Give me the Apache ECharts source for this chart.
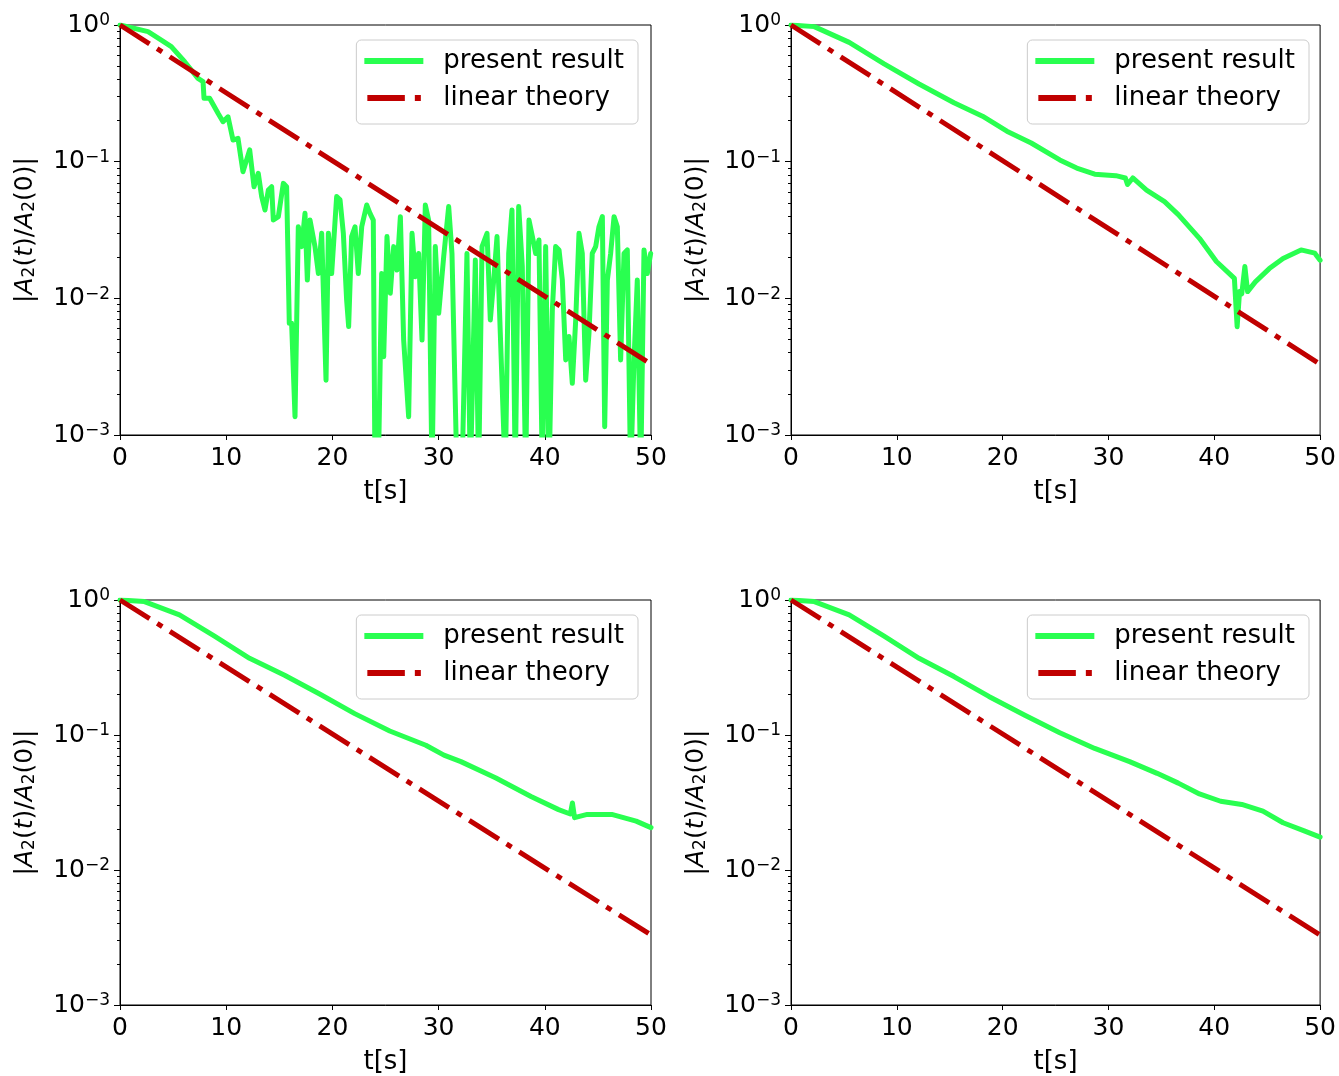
<!DOCTYPE html>
<html><head><meta charset="utf-8">
<script src="https://cdn.jsdelivr.net/npm/echarts@6/dist/echarts.min.js"></script>
<style>html,body{margin:0;padding:0;background:#fff}#c{width:1339px;height:1076px}</style>
</head><body><div id="c"></div>
<script>
// ---------- data ----------
const seriesNames = ['present result', 'linear theory'];
const xTicks = [0, 10, 20, 30, 40, 50];
const yMajorTicks = [0.001, 0.01, 0.1, 1];
const yMinorTicks = [0.002,0.003,0.004,0.005,0.006,0.007,0.008,0.009,
                     0.02,0.03,0.04,0.05,0.06,0.07,0.08,0.09,
                     0.2,0.3,0.4,0.5,0.6,0.7,0.8,0.9];

// linear theory (same in all panels)
const linT = [0, 50];
const linV = [1, 0.0033];

// panel A (top-left), noisy
const aT = [0,2.64,3.89,4.83,6.09,7.34,7.82,7.91,8.44,9.23,
  9.70,10.17,10.64,11.11,11.58,12.21,12.62,13.02,13.34,13.65,
  13.97,14.28,14.44,14.91,15.38,15.69,15.94,16.16,16.48,16.79,
  17.11,17.42,17.64,17.89,18.36,18.68,18.99,19.40,19.62,19.93,
  20.40,20.72,21.03,21.34,21.53,21.81,22.13,22.44,22.76,23.23,
  23.54,23.85,24.01,24.32,24.64,24.83,25.14,25.45,25.77,26.08,
  26.40,26.71,27.18,27.50,27.81,28.12,28.44,28.75,29.06,29.38,
  29.69,30.01,30.48,30.95,31.26,31.73,32.20,32.67,32.99,33.46,
  33.77,34.09,34.56,34.87,35.19,35.50,35.81,36.28,36.60,36.91,
  37.22,37.54,37.88,38.20,38.51,38.83,39.14,39.45,39.77,40.08,
  40.40,40.71,41.02,41.34,41.65,41.97,42.28,42.59,42.91,43.22,
  43.53,43.85,44.16,44.47,44.79,45.10,45.42,45.64,45.89,46.20,
  46.52,46.83,47.14,47.46,47.77,48.08,48.40,48.71,49.03,49.34,
  49.65,49.97];
const aV = [1.0,0.894,0.776,0.694,0.539,0.407,0.385,0.291,0.291,0.226,
  0.196,0.213,0.144,0.148,0.0845,0.122,0.0656,0.0822,0.0555,0.0443,
  0.0621,0.0656,0.0374,0.0396,0.0694,0.0656,0.00656,0.00656,0.00136,0.0334,
  0.0239,0.0419,0.0136,0.0374,0.0239,0.0152,0.0299,0.00252,0.0299,0.0152,
  0.0555,0.0525,0.0299,0.00973,0.00621,0.0283,0.0334,0.0152,0.0334,0.0482,
  0.0419,0.0374,0.0005,0.0005,0.0152,0.00374,0.0283,0.0109,0.0239,0.0161,
  0.0396,0.00495,0.00136,0.0299,0.0144,0.0213,0.00495,0.0482,0.0374,0.0005,
  0.0239,0.00777,0.0202,0.0469,0.0213,0.0005,0.0005,0.0213,0.0005,0.0191,
  0.0005,0.0239,0.0299,0.00694,0.0136,0.0283,0.00555,0.0005,0.0213,0.0443,
  0.0005,0.0469,0.0171,0.0005,0.0374,0.0283,0.0213,0.0267,0.0005,0.0239,
  0.0005,0.00822,0.0239,0.0226,0.0136,0.00354,0.00525,0.00239,0.00694,0.0299,
  0.0213,0.00252,0.00555,0.0213,0.0239,0.0334,0.0396,0.00115,0.0136,0.0213,
  0.0396,0.0334,0.00354,0.0213,0.0226,0.0005,0.00354,0.0136,0.0005,0.0226,
  0.0152,0.0213];

// panel B (top-right)
const bT = [0,2.2,5.5,8.8,12.1,15.4,18.1,20.4,22.7,25.4,27.0,28.7,30.7,31.6,31.8,32.3,33.6,35.3,36.6,38.6,40.2,41.9,42.16,42.39,42.6,42.89,43.15,43.88,45.2,46.5,48.2,49.5,50];
const bV = [1,0.973,0.746,0.52,0.37,0.27,0.215,0.167,0.137,0.103,0.0898,0.081,0.079,0.076,0.068,0.076,0.062,0.051,0.041,0.0275,0.0186,0.014,0.0062,0.0112,0.0108,0.0171,0.0112,0.0132,0.0165,0.0196,0.0226,0.0214,0.019];

// panel C (bottom-left)
const cT = [0,2.3,5.6,8.9,12.2,15.5,18.8,22.1,25.4,28.8,30.5,32.1,35.4,38.7,41.3,42.4,42.6,42.8,44.0,46.3,48.6,50];
const cV = [1,0.973,0.776,0.54,0.37,0.277,0.201,0.144,0.107,0.084,0.071,0.0635,0.048,0.035,0.028,0.026,0.0314,0.0244,0.0258,0.0258,0.023,0.0206];

// panel D (bottom-right)
const dT = [0,2.2,5.5,8.8,12.1,15.4,18.7,22.1,25.4,28.7,32.0,34.6,36.6,38.6,40.6,42.6,44.6,46.5,48.5,50];
const dV = [1,0.973,0.776,0.54,0.37,0.271,0.193,0.14,0.104,0.0795,0.0635,0.052,0.044,0.0366,0.0323,0.0306,0.0273,0.0224,0.0195,0.0175];

const panels = [[aT,aV],[bT,bV],[cT,cV],[dT,dV]];

// ---------- chart ----------
const FONT = 'DejaVu Sans';
const GREEN = '#29ff50', RED = '#c00000';
const zip = (t, v) => t.map((x, i) => [x, v[i]]);
const grids = [
  {left:120, top:25, width:531, height:410},
  {left:791, top:25, width:531, height:410},
  {left:120, top:600, width:531, height:409},
  {left:791, top:600, width:531, height:409}
];
const fmtExp = v => {
  const e = Math.round(Math.log10(v));
  return '{b|10}{s|' + (e < 0 ? '\u2212' + (-e) : e) + '}';
};

// legend icons: solid bar, and dash-dot bar (with invisible end caps to keep the box width)
const iconSolid = 'rect';
const iconDashDot = 'path://M0,0H0.01V6H0Z M3,0H40.5V6H3Z M50.5,0H56.5V6H50.5Z M58.99,0H59V6H58.99Z';

const option = {
  animation: false,
  backgroundColor: '#fff',
  textStyle: {fontFamily: FONT},
  grid: grids.map(g => Object.assign({show:true, borderColor:'#000', borderWidth:1, backgroundColor:'transparent'}, g)),
  xAxis: grids.map((g, i) => ({
    gridIndex: i, type: 'value', min: xTicks[0], max: xTicks[xTicks.length-1], interval: 10,
    name: 't[s]', nameLocation: 'middle', nameGap: 44,
    nameTextStyle: {fontSize: 26, color: '#000', fontFamily: FONT},
    axisLine: {show: true, lineStyle: {color: '#000', width: 1}},
    axisTick: {show: true, length: 5, lineStyle: {color: '#000'}},
    axisLabel: {fontSize: 25, color: '#000', margin: 11, fontFamily: FONT},
    splitLine: {show: false}
  })),
  yAxis: [].concat(grids.map((g, i) => ({
    gridIndex: i, type: 'log', logBase: 10, position: 'left',
    min: yMajorTicks[0], max: yMajorTicks[yMajorTicks.length-1], interval: 1,
    name: '{n||}{i|A}{sub|2}{n|(}{i|t}{n|)/}{i|A}{sub|2}{n|(0)|}',
    nameLocation: 'middle', nameGap: 82, nameRotate: 90,
    nameTextStyle: {color:'#000', rich: {
      n: {fontSize: 25, fontFamily: FONT, color: '#000'},
      i: {fontSize: 25, fontFamily: FONT, fontStyle: 'italic', color: '#000'},
      sub: {fontSize: 17, fontFamily: FONT, color: '#000', verticalAlign: 'bottom'}
    }},
    axisLine: {show: true, lineStyle: {color: '#000', width: 1}},
    axisTick: {show: true, length: 6, lineStyle: {color: '#000'}},
    axisLabel: {color: '#000', margin: 10, formatter: fmtExp, rich: {
      b: {fontSize: 25, fontFamily: FONT, color: '#000'},
      s: {fontSize: 17, fontFamily: FONT, color: '#000', verticalAlign: 'top'}
    }},
    splitLine: {show: false}
  })), grids.map((g, i) => ({
    gridIndex: i, type: 'log', logBase: 10, position: 'left',
    min: yMajorTicks[0], max: yMajorTicks[yMajorTicks.length-1],
    axisLine: {show: false},
    axisTick: {show: true, length: 3, customValues: yMinorTicks, lineStyle: {color: '#000'}},
    axisLabel: {show: false},
    splitLine: {show: false}
  }))),
  legend: grids.map((g, i) => ({
    data: [{name: seriesNames[0], icon: iconSolid}, {name: seriesNames[1], icon: iconDashDot}],
    orient: 'vertical',
    right: 1339 - (g.left + g.width) + 13,
    top: g.top + 15,
    itemWidth: 59, itemHeight: 6, itemGap: 7,
    padding: [6, 14, 11, 8],
    borderColor: '#cccccc', borderWidth: 1, borderRadius: 5,
    backgroundColor: 'rgba(255,255,255,0.8)',
    textStyle: {fontSize: 26, lineHeight: 30, fontFamily: FONT, color: '#000', padding: [0, 0, 0, 15]}
  })),
  series: [].concat(...panels.map((p, i) => [
    {
      name: seriesNames[0], type: 'line', xAxisIndex: i, yAxisIndex: i,
      data: zip(p[0], p[1]), showSymbol: false, symbol: 'none', clip: true,
      lineStyle: {color: GREEN, width: 5, join: 'round', cap: 'round'},
      itemStyle: {color: GREEN}, z: 2
    },
    {
      name: seriesNames[1], type: 'line', xAxisIndex: i, yAxisIndex: i,
      data: zip(linT, linV), showSymbol: false, symbol: 'none', clip: true,
      lineStyle: {color: RED, width: 5, type: [35, 9, 6, 9]},
      itemStyle: {color: RED}, z: 3
    }
  ]))
};
const chart = echarts.init(document.getElementById('c'), null, {renderer: 'canvas'});
chart.setOption(option);
</script>
</body></html>
